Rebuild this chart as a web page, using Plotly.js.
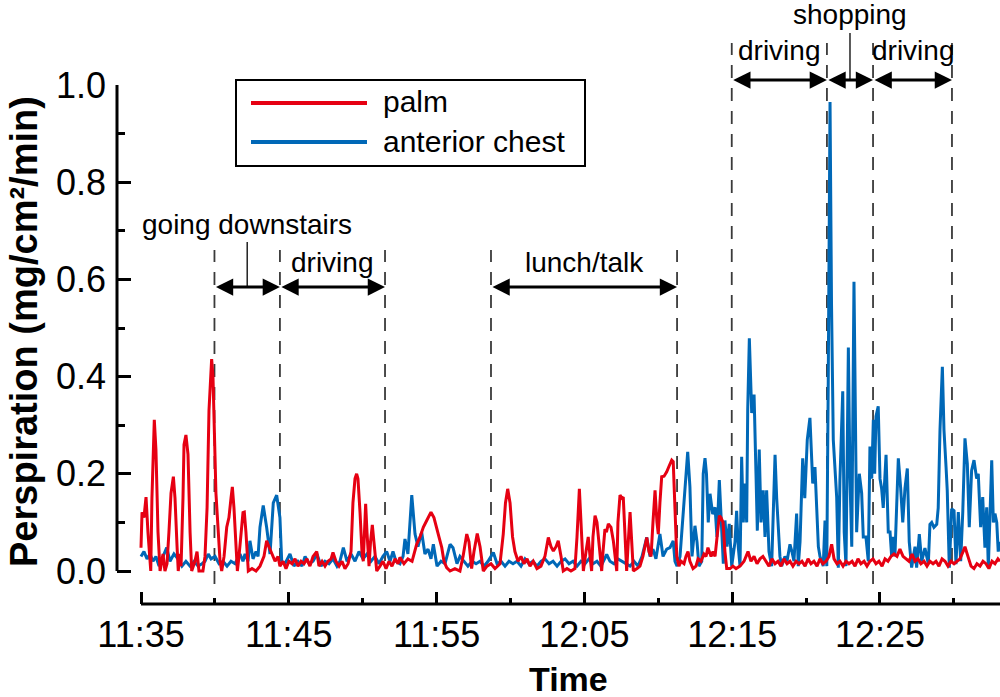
<!DOCTYPE html>
<html><head><meta charset="utf-8">
<script src="https://cdn.plot.ly/plotly-3.0.1.min.js"></script>
<style>html,body{margin:0;padding:0;background:#fff}#chart{width:1000px;height:697px}</style>
</head><body><div id="chart"></div>
<script>
// ---- data: minutes after 11:35 and perspiration (mg/cm2/min) ----
const chestMin = [
0.00,0.20,0.41,0.61,0.81,1.01,1.22,1.42,1.74,1.96,
2.23,2.50,2.77,3.04,3.32,3.59,3.86,4.13,4.33,4.55,
4.74,5.01,5.28,5.55,5.82,6.09,6.36,6.70,6.90,7.04,
7.24,7.37,7.58,7.78,7.92,8.05,8.27,8.50,8.73,8.95,
9.18,9.40,9.52,9.74,10.08,10.35,10.62,10.89,11.10,11.37,
11.64,11.91,12.18,12.45,12.72,12.99,13.26,13.46,13.69,13.94,
14.21,14.48,14.75,15.02,15.29,15.56,15.83,16.10,16.37,16.62,
16.85,17.05,17.25,17.52,17.73,17.86,18.06,18.32,18.54,18.74,
18.99,19.21,19.42,19.62,19.78,20.03,20.30,20.57,20.91,21.11,
21.38,21.58,21.85,22.12,22.40,22.67,22.94,23.21,23.48,23.84,
24.09,24.36,24.63,24.90,25.17,25.44,25.71,25.98,26.25,26.52,
26.79,27.06,27.33,27.61,27.88,28.15,28.42,28.69,28.96,29.23,
29.50,29.77,30.04,30.31,30.58,30.85,31.12,31.51,31.73,32.00,
32.27,32.54,32.81,33.09,33.36,33.63,33.90,34.22,34.44,34.64,
34.84,35.11,35.32,35.57,35.79,36.01,36.13,36.27,36.47,36.69,
36.99,37.14,37.28,37.48,37.62,37.75,37.94,38.04,38.16,38.26,
38.38,38.50,38.68,38.84,38.97,39.13,39.29,39.40,39.51,39.65,
39.80,39.97,40.19,40.30,40.41,40.53,40.64,40.75,40.87,40.98,
41.05,41.16,41.32,41.48,41.61,41.70,41.83,41.95,42.10,42.22,
42.33,42.49,42.67,42.90,43.01,43.12,43.23,43.35,43.57,43.71,
43.91,44.04,44.18,44.36,44.47,44.59,44.77,44.91,45.08,45.26,
45.45,45.60,45.72,45.83,45.94,46.16,46.28,46.40,46.50,46.62,
46.72,46.84,47.07,47.18,47.29,47.48,47.58,47.70,47.86,47.97,
48.09,48.24,48.42,48.60,48.76,48.87,49.05,49.21,49.32,49.44,
49.55,49.64,49.73,49.88,50.00,50.11,50.22,50.41,50.56,50.68,
50.79,50.90,51.01,51.24,51.40,51.54,51.69,51.85,51.98,52.14,
52.37,52.48,52.66,52.82,53.04,53.27,53.38,53.50,53.65,53.84,
53.94,54.06,54.22,54.33,54.47,54.55,54.69,54.85,55.01,55.14,
55.30,55.46,55.60,55.75,55.91,56.04,56.20,56.36,56.54,56.65,
56.81,56.95,57.10,57.22,57.33,57.44,57.56,57.67,57.78,57.90,
58.00,58.12];
const chestVal = [
0.03,0.04,0.025,0.035,0.02,0.03,0.01,0.025,0.048,0.02,
0.035,0.025,0.01,0.02,0.01,0.02,0.01,0.015,0.02,0.035,
0.025,0.03,0.015,0.02,0.01,0.02,0.015,0.035,0.02,0.035,
0.02,0.062,0.025,0.04,0.03,0.09,0.135,0.09,0.035,0.14,
0.156,0.11,0.02,0.015,0.035,0.01,0.02,0.01,0.03,0.015,
0.02,0.035,0.01,0.02,0.015,0.025,0.01,0.02,0.048,0.02,
0.035,0.02,0.04,0.025,0.035,0.02,0.03,0.015,0.03,0.04,
0.02,0.04,0.02,0.015,0.03,0.066,0.035,0.156,0.076,0.05,
0.08,0.035,0.045,0.025,0.055,0.01,0.02,0.015,0.055,0.048,
0.015,0.03,0.02,0.01,0.02,0.015,0.02,0.01,0.02,0.038,
0.015,0.02,0.01,0.02,0.015,0.02,0.01,0.025,0.015,0.02,
0.01,0.02,0.025,0.015,0.02,0.01,0.02,0.025,0.015,0.02,
0.01,0.02,0.015,0.025,0.015,0.02,0.01,0.034,0.02,0.015,
0.025,0.02,0.015,0.01,0.02,0.01,0.03,0.069,0.03,0.045,
0.025,0.076,0.03,0.045,0.048,0.062,0.02,0.01,0.03,0.117,
0.245,0.173,0.03,0.093,0.06,0.01,0.02,0.2,0.232,0.2,
0.1,0.159,0.117,0.131,0.07,0.187,0.1,0.015,0.104,0.05,
0.097,0.01,0.06,0.124,0.05,0.01,0.235,0.1,0.18,0.1,
0.332,0.479,0.325,0.363,0.2,0.083,0.25,0.1,0.166,0.07,
0.166,0.04,0.01,0.239,0.15,0.083,0.03,0.01,0.03,0.02,
0.055,0.04,0.02,0.118,0.01,0.06,0.232,0.15,0.27,0.315,
0.18,0.214,0.13,0.05,0.03,0.01,0.104,0.01,0.394,0.965,
0.55,0.27,0.152,0.007,0.187,0.37,0.08,0.01,0.46,0.19,
0.05,0.595,0.08,0.2,0.16,0.07,0.07,0.02,0.256,0.19,
0.311,0.2,0.318,0.339,0.19,0.17,0.13,0.239,0.08,0.08,
0.03,0.07,0.03,0.232,0.17,0.1,0.17,0.211,0.06,0.007,
0.05,0.007,0.076,0.02,0.047,0.015,0.096,0.1,0.09,0.096,
0.13,0.29,0.42,0.29,0.214,0.166,0.007,0.128,0.124,0.014,
0.121,0.02,0.121,0.273,0.22,0.09,0.207,0.228,0.19,0.2,
0.09,0.152,0.048,0.131,0.007,0.1,0.228,0.1,0.118,0.1,
0.04,0.06];

const palmMin = [
0.00,0.07,0.20,0.34,0.47,0.66,0.74,0.90,1.01,1.15,
1.29,1.49,1.62,1.76,1.89,2.03,2.19,2.30,2.44,2.52,
2.64,2.71,2.84,2.91,3.04,3.18,3.32,3.43,3.65,3.79,
3.92,4.19,4.33,4.47,4.60,4.78,4.87,4.97,5.07,5.21,
5.35,5.46,5.62,5.80,5.95,6.09,6.18,6.29,6.43,6.52,
6.63,6.77,6.90,6.99,7.10,7.26,7.51,7.78,8.05,8.32,
8.50,8.66,8.86,9.07,9.27,9.40,9.61,9.81,10.01,10.22,
10.42,10.62,10.83,11.03,11.23,11.43,11.64,11.89,12.04,12.25,
12.45,12.65,12.86,12.99,13.19,13.40,13.60,13.80,14.01,14.21,
14.34,14.48,14.59,14.68,14.82,14.95,15.04,15.20,15.29,15.43,
15.53,15.65,15.76,15.95,16.17,16.37,16.58,16.78,16.98,17.19,
17.39,17.52,17.79,18.06,18.34,18.65,18.88,19.10,19.35,19.62,
19.82,20.01,20.16,20.35,20.50,20.68,20.91,21.24,21.58,21.79,
22.04,22.19,22.37,22.53,22.75,22.94,23.16,23.41,23.68,23.95,
24.29,24.51,24.66,24.81,24.97,25.14,25.30,25.51,25.71,25.91,
26.12,26.32,26.54,26.79,27.06,27.33,27.56,27.74,27.90,28.08,
28.23,28.42,28.57,28.82,29.09,29.36,29.50,29.66,29.77,29.93,
30.11,30.26,30.38,30.49,30.58,30.72,30.85,30.99,31.17,31.26,
31.39,31.49,31.62,31.80,31.96,32.19,32.27,32.41,32.54,32.63,
32.75,32.86,32.95,33.09,33.22,33.31,33.56,33.76,33.96,34.22,
34.37,34.51,34.64,34.78,34.91,35.00,35.11,35.23,35.39,35.57,
35.72,35.91,36.01,36.13,36.25,36.40,36.54,36.74,36.87,37.01,
37.14,37.35,37.55,37.69,37.89,38.09,38.23,38.36,38.57,38.70,
38.84,38.95,39.13,39.24,39.38,39.51,39.63,39.85,40.05,40.26,
40.53,40.80,41.07,41.27,41.48,41.68,41.88,42.08,42.29,42.49,
42.69,42.90,43.10,43.30,43.50,43.71,43.91,44.11,44.32,44.52,
44.72,44.93,45.13,45.33,45.53,45.74,45.94,46.14,46.35,46.55,
46.73,46.89,47.09,47.29,47.50,47.70,47.90,48.11,48.31,48.51,
48.71,48.92,49.12,49.32,49.53,49.73,49.93,50.14,50.34,50.54,
50.74,50.95,51.15,51.35,51.56,51.76,51.96,52.17,52.37,52.57,
52.77,52.98,53.18,53.38,53.59,53.79,53.99,54.20,54.40,54.60,
54.80,55.01,55.21,55.41,55.62,55.75,55.95,56.16,56.36,56.56,
56.77,56.97,57.17,57.37,57.58,57.78,57.98,58.12];
const palmVal = [
0.048,0.121,0.11,0.152,0.08,0.0,0.15,0.311,0.25,0.08,
0.0,0.035,0.0,0.015,0.08,0.16,0.194,0.15,0.05,0.0,
0.035,0.01,0.15,0.26,0.28,0.24,0.08,0.0,0.02,0.04,
0.0,0.0,0.03,0.13,0.33,0.436,0.4,0.25,0.16,0.09,
0.02,0.0,0.03,0.09,0.11,0.15,0.173,0.13,0.04,0.0,
0.03,0.08,0.12,0.121,0.08,0.0,0.005,0.0,0.01,0.03,
0.062,0.05,0.035,0.02,0.03,0.01,0.02,0.005,0.02,0.015,
0.025,0.01,0.02,0.015,0.025,0.01,0.03,0.04,0.01,0.02,
0.01,0.02,0.025,0.038,0.02,0.01,0.02,0.005,0.015,0.04,
0.14,0.19,0.2,0.19,0.12,0.04,0.02,0.138,0.08,0.01,
0.06,0.095,0.06,0.0,0.01,0.02,0.005,0.02,0.01,0.025,
0.015,0.028,0.015,0.025,0.02,0.055,0.07,0.09,0.105,0.121,
0.11,0.09,0.07,0.048,0.02,0.007,0.0,0.005,0.0,0.03,
0.076,0.06,0.005,0.04,0.077,0.05,0.0,0.01,0.015,0.005,
0.015,0.076,0.14,0.169,0.14,0.07,0.04,0.02,0.03,0.015,
0.025,0.01,0.02,0.005,0.01,0.03,0.069,0.05,0.041,0.05,
0.062,0.03,0.0,0.005,0.0,0.005,0.07,0.169,0.1,0.0,
0.04,0.07,0.03,0.0,0.07,0.114,0.1,0.06,0.0,0.04,
0.086,0.08,0.097,0.09,0.062,0.0,0.1,0.156,0.15,0.152,
0.07,0.0,0.05,0.121,0.05,0.0,0.005,0.01,0.03,0.069,
0.04,0.03,0.1,0.166,0.1,0.076,0.14,0.194,0.195,0.204,
0.215,0.228,0.225,0.12,0.03,0.01,0.02,0.015,0.03,0.04,
0.02,0.005,0.01,0.025,0.02,0.035,0.03,0.048,0.03,0.04,
0.03,0.062,0.114,0.11,0.1,0.04,0.005,0.005,0.01,0.005,
0.01,0.02,0.04,0.02,0.03,0.015,0.025,0.03,0.02,0.01,
0.025,0.015,0.02,0.01,0.025,0.015,0.02,0.01,0.02,0.015,
0.02,0.01,0.025,0.015,0.02,0.01,0.025,0.015,0.02,0.03,
0.055,0.025,0.015,0.02,0.01,0.02,0.015,0.02,0.01,0.025,
0.015,0.02,0.01,0.02,0.025,0.015,0.02,0.01,0.025,0.02,
0.03,0.035,0.03,0.045,0.03,0.025,0.02,0.035,0.02,0.025,
0.015,0.02,0.01,0.02,0.015,0.02,0.01,0.025,0.02,0.01,
0.02,0.015,0.02,0.025,0.04,0.05,0.03,0.01,0.005,0.015,
0.01,0.02,0.015,0.005,0.02,0.015,0.025,0.02];

// activity periods (minutes after 11:35)
const activityLabels = ['going downstairs','driving','lunch/talk','driving','shopping','driving'];
const activityStart  = [4.97, 9.40, 23.68, 39.97, 46.41, 49.53];
const activityEnd    = [9.40, 16.51, 36.27, 46.41, 49.53, 54.87];
const activityRow    = ['low','low','low','high','high','high'];
const activityRaised = [true,false,false,false,true,false];

const seriesNames = ['palm','anterior chest'];
const yTitle = 'Perspiration (mg/cm²/min)';
const xTitle = 'Time';

// ---- helpers ----
const BASE = Date.UTC(2024,0,1,11,35,0);
function toDate(m){ return new Date(BASE + Math.round(m*60000)).toISOString().replace('T',' ').replace('Z',''); }
const FONT = '"Liberation Sans", Arial, Helvetica, sans-serif';
const RED = '#E60012', BLUE = '#0068B7';
// layout geometry (pixels -> paper)
const PT = 85, PB = 604, PL = 117, PR = 1000;
const py = Y => (PB - Y) / (PB - PT);
const px = X => (X - PL) / (PR - PL);

const traces = [
  {type:'scatter', mode:'lines', name:seriesNames[1], x:chestMin.map(toDate), y:chestVal,
   line:{color:BLUE, width:3}, hoverinfo:'skip'},
  {type:'scatter', mode:'lines', name:seriesNames[0], x:palmMin.map(toDate), y:palmVal,
   line:{color:RED, width:3}, hoverinfo:'skip'}
];

const shapes = [];
const annotations = [];
const rows = {low:{arrow:287, label:262, raised:224.5, leadTop:242, dashTop:250},
              high:{arrow:80, label:50, raised:14.5, leadTop:33, dashTop:43}};

// dashed boundaries
const seen = {};
activityStart.forEach((s,i)=>{
  [s, activityEnd[i]].forEach(t=>{
    if(seen[t]) return; seen[t]=1;
    shapes.push({type:'line', layer:'below', xref:'x', yref:'paper', x0:toDate(t), x1:toDate(t),
      y0:py(584), y1:py(rows[activityRow[i]].dashTop),
      line:{color:'#3a3a3a', width:1.8, dash:'13px,10px'}});
  });
});

activityLabels.forEach((lab,i)=>{
  const r = rows[activityRow[i]];
  const mid = (activityStart[i]+activityEnd[i])/2;
  annotations.push({xref:'x', yref:'paper', x:toDate(activityEnd[i]), y:py(r.arrow),
    axref:'x', ayref:'pixel', ax:toDate(activityStart[i]), ay:0, text:'',
    showarrow:true, arrowside:'end+start', arrowhead:2, startarrowhead:2,
    arrowsize:1.15, startarrowsize:1.15, arrowwidth:3, arrowcolor:'#000',
    standoff:0, startstandoff:0});
  if(activityRaised[i]){
    shapes.push({type:'line', xref:'x', yref:'paper', x0:toDate(mid), x1:toDate(mid),
      y0:py(r.leadTop), y1:py(r.arrow), line:{color:'#000', width:1.3}});
  }
  annotations.push({xref:'x', yref:'paper', x:toDate(mid), y:py(activityRaised[i]?r.raised:r.label),
    xanchor:'center', yanchor:'middle', showarrow:false, text:lab,
    font:{family:FONT, size:28, color:'#000'}});
});

// axis lines
shapes.push({type:'line', xref:'x', yref:'paper', x0:toDate(0), x1:toDate(58.12), y0:0, y1:0,
  line:{color:'#000', width:3}});
shapes.push({type:'line', xref:'paper', yref:'y', x0:0, x1:0, y0:0, y1:1,
  line:{color:'#000', width:3}});

// legend (drawn)
shapes.push({type:'rect', xref:'paper', yref:'paper', x0:px(236), x1:px(585), y0:py(166), y1:py(80),
  line:{color:'#000', width:2}, fillcolor:'#fff'});
shapes.push({type:'line', xref:'paper', yref:'paper', x0:px(251), x1:px(367), y0:py(103), y1:py(103),
  line:{color:RED, width:4}});
shapes.push({type:'line', xref:'paper', yref:'paper', x0:px(251), x1:px(367), y0:py(142), y1:py(142),
  line:{color:BLUE, width:4}});
annotations.push({xref:'paper', yref:'paper', x:px(381), y:py(102), xanchor:'left', yanchor:'middle',
  showarrow:false, text:seriesNames[0], font:{family:FONT, size:30, color:'#000'}});
annotations.push({xref:'paper', yref:'paper', x:px(381), y:py(141), xanchor:'left', yanchor:'middle',
  showarrow:false, text:seriesNames[1], font:{family:FONT, size:30, color:'#000'}});

// axis titles
annotations.push({xref:'paper', yref:'paper', x:px(24), y:py(332), xanchor:'center', yanchor:'middle',
  textangle:-90, showarrow:false, text:'<b>'+yTitle+'</b>', font:{family:FONT, size:38, color:'#000'}});
annotations.push({xref:'paper', yref:'paper', x:px(568), y:py(679), xanchor:'center', yanchor:'middle',
  showarrow:false, text:'<b>'+xTitle+'</b>', font:{family:FONT, size:34, color:'#000'}});

const layout = {
  width:1000, height:697, margin:{l:PL, r:1000-PR, t:PT, b:697-PB, pad:0},
  paper_bgcolor:'#fff', plot_bgcolor:'rgba(0,0,0,0)', showlegend:false,
  font:{family:FONT, color:'#000'},
  xaxis:{type:'date', range:[toDate(-1.624), toDate(58.12)], tick0:toDate(0), dtick:600000,
    tickformat:'%H:%M', ticks:'inside', ticklen:12.5, tickwidth:3, tickcolor:'#000',
    minor:{tick0:toDate(0), dtick:300000, ticks:'inside', ticklen:6, tickwidth:3, tickcolor:'#000'},
    showgrid:false, zeroline:false, showline:false, ticklabelstandoff:6,
    tickfont:{family:FONT, size:36, color:'#000'}, fixedrange:true},
  yaxis:{range:[-0.0679, 1], tick0:0, dtick:0.2, tickformat:'.1f', ticks:'inside', ticklen:14,
    tickwidth:3, tickcolor:'#000',
    minor:{tick0:0, dtick:0.1, ticks:'inside', ticklen:7.5, tickwidth:3, tickcolor:'#000'},
    showgrid:false, zeroline:false, showline:false, ticklabelstandoff:10,
    tickfont:{family:FONT, size:36, color:'#000'}, fixedrange:true},
  shapes:shapes, annotations:annotations
};
Plotly.newPlot('chart', traces, layout, {displayModeBar:false, staticPlot:true});
</script></body></html>
